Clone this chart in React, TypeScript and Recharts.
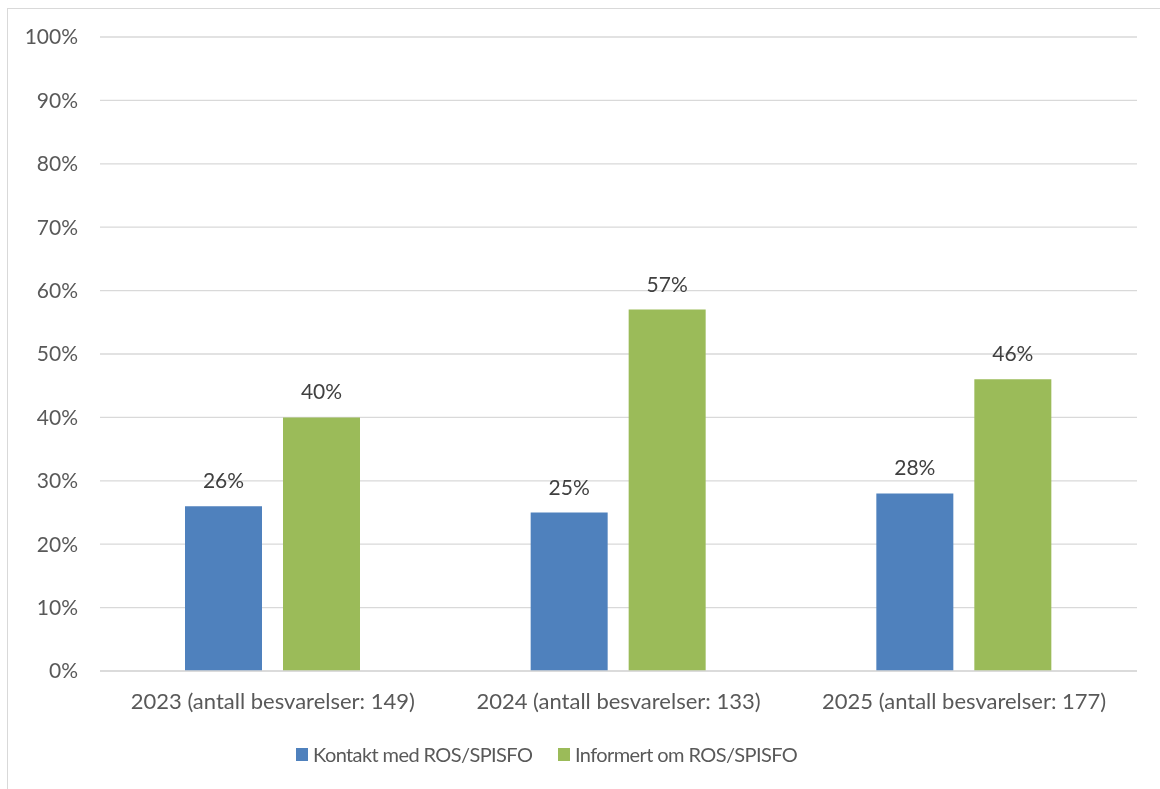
import React from 'react';
import { Bar, BarChart, CartesianGrid, LabelList, Legend, XAxis, YAxis } from 'recharts';

const years = ['2023 (antall besvarelser: 149)', '2024 (antall besvarelser: 133)', '2025 (antall besvarelser: 177)'];
const kontakt = [26, 25, 28];
const informert = [40, 57, 46];
const yTicks = [0, 10, 20, 30, 40, 50, 60, 70, 80, 90, 100];

const seriesNames = {
  kontakt: 'Kontakt med ROS/SPISFO',
  informert: 'Informert om ROS/SPISFO',
};

const BLUE = '#4f81bd';
const GREEN = '#9bbb59';
const TEXT = '#595959';
const GRID = '#d9d9d9';
const FONT = 'Lato, "Open Sans", sans-serif';

const data = years.map((year, i) => ({
  year,
  kontakt: kontakt[i],
  informert: informert[i],
}));

function LegendContent() {
  const items = [
    { label: seriesNames.kontakt, color: BLUE },
    { label: seriesNames.informert, color: GREEN },
  ];
  return (
    <div
      style={{
        display: 'flex',
        alignItems: 'center',
        fontFamily: FONT,
        fontSize: 20,
        letterSpacing: -0.6,
        color: TEXT,
        whiteSpace: 'nowrap',
      }}
    >
      {items.map((it, i) => (
        <span
          key={it.label}
          style={{ display: 'inline-flex', alignItems: 'center', width: i === 0 ? 262 : 'auto' }}
        >
          <span style={{ width: 12, height: 13, background: it.color, marginRight: 5, display: 'inline-block' }} />
          {it.label}
        </span>
      ))}
    </div>
  );
}

export default function App() {
  return (
    <>
      <div
        style={{
          position: 'fixed',
          left: 7,
          top: 8,
          width: 1170,
          height: 800,
          border: `1px solid ${GRID}`,
          boxSizing: 'border-box',
        }}
      />
      <div style={{ position: 'fixed', left: 0, top: 0 }}>
        <BarChart
          width={1160}
          height={789}
          data={data}
          margin={{ top: 37, right: 23, bottom: 0, left: 0 }}
          barSize={77}
          barGap={21}
        >
          <CartesianGrid vertical={false} stroke={GRID} strokeWidth={1.3} />
          <XAxis
            dataKey="year"
            axisLine={{ stroke: GRID, strokeWidth: 1.3 }}
            tickLine={false}
            tickSize={0}
            tickMargin={22}
            tick={{ fill: TEXT, fontSize: 22, fontFamily: FONT }}
            height={118}
            interval={0}
          />
          <YAxis
            domain={[0, 100]}
            ticks={yTicks}
            width={100}
            axisLine={false}
            tickLine={false}
            tickSize={0}
            tickMargin={22}
            tickFormatter={(v: number) => `${v}%`}
            tick={{ fill: TEXT, fontSize: 21, fontFamily: FONT }}
          />
          <Legend
            layout="horizontal"
            verticalAlign="middle"
            align="center"
            content={<LegendContent />}
            wrapperStyle={{ left: 296, top: 742, width: 'auto' }}
          />
          <Bar dataKey="kontakt" name={seriesNames.kontakt} fill={BLUE} isAnimationActive={false}>
            <LabelList
              dataKey="kontakt"
              position="top"
              offset={18}
              formatter={(v: number) => `${v}%`}
              style={{ fill: '#404040', fontSize: 21, fontFamily: FONT }}
            />
          </Bar>
          <Bar dataKey="informert" name={seriesNames.informert} fill={GREEN} isAnimationActive={false}>
            <LabelList
              dataKey="informert"
              position="top"
              offset={18}
              formatter={(v: number) => `${v}%`}
              style={{ fill: '#404040', fontSize: 21, fontFamily: FONT }}
            />
          </Bar>
        </BarChart>
      </div>
    </>
  );
}
